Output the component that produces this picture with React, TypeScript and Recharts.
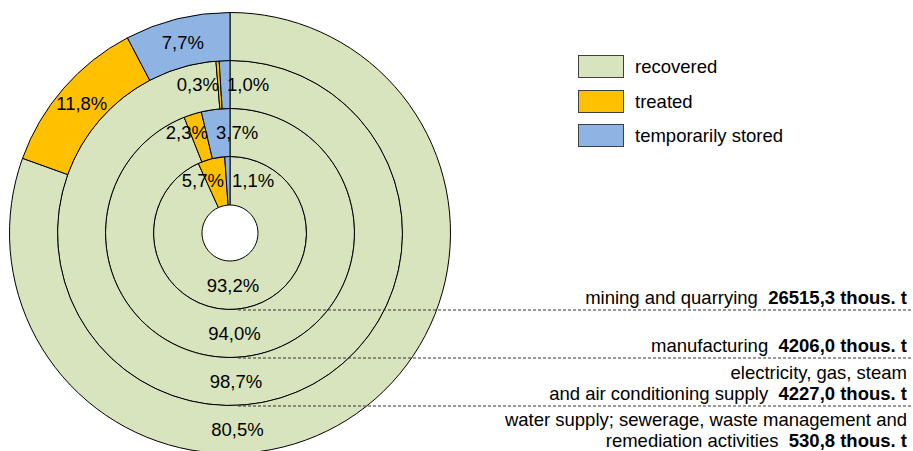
import React from 'react';
import { PieChart, Pie, Cell } from 'recharts';

const categories = ['recovered', 'treated', 'temporarily stored'];
const sectorLabelLines = [
  ['mining and quarrying'],
  ['manufacturing'],
  ['electricity, gas, steam', 'and air conditioning supply'],
  ['water supply; sewerage, waste management and', 'remediation activities'],
];
const sectorTotals = [26515.3, 4206.0, 4227.0, 530.8];
const miningShares = [93.2, 5.7, 1.1];
const manufacturingShares = [94.0, 2.3, 3.7];
const electricityShares = [98.7, 0.3, 1.0];
const waterShares = [80.5, 11.8, 7.7];

const rings = [miningShares, manufacturingShares, electricityShares, waterShares];
const colors = ['#D7E4BD', '#FFC000', '#8EB4E3'];

const W = 913;
const H = 451;
const CX = 230;
const CY = 233;
const RADII = [28, 76.5, 124.5, 172.5, 220.5];
const LABEL_SHIFT = [0, -16, -5];
const FONT = '"Liberation Sans", Arial, sans-serif';
const FS = 18.5;
const RAD = Math.PI / 180;

const fmt = (v: number) => v.toFixed(1).replace('.', ',');

const makeLabel = (ring: number) => (props: any) => {
  const { cx, cy, midAngle, innerRadius, outerRadius, value, index } = props;
  const r = (innerRadius + outerRadius) / 2;
  let x = cx;
  let y = cy;
  let anchor: 'middle' | 'start' | 'end' = 'middle';
  if (index === 0) {
    x = cx + 3 + ring * 1.5;
    y = cy + r;
  } else if (ring === 3) {
    x = cx + r * Math.cos(-midAngle * RAD);
    y = cy + r * Math.sin(-midAngle * RAD);
  } else {
    const shift = LABEL_SHIFT[ring];
    y = cy - r;
    if (index === 1) {
      x = cx - 6 + shift;
      anchor = 'end';
    } else {
      x = cx + 2 + shift;
      anchor = 'start';
    }
  }
  return (
    <text
      x={x}
      y={y}
      textAnchor={anchor}
      dominantBaseline="central"
      fill="#000"
      fontSize={FS}
      fontFamily={FONT}
    >
      {fmt(value) + '%'}
    </text>
  );
};

const Overlay = () => {
  const legendTop = [55, 90, 124];
  const lineY = [RADII[1], RADII[2], RADII[3]].map((r) => CY + r + 0.5);
  const textRight = 907;
  const lh = 21;
  return (
    <svg
      width={W}
      height={H}
      style={{ position: 'absolute', left: 0, top: 0, pointerEvents: 'none' }}
    >
      <g fontFamily={FONT} fontSize={FS}>
        {categories.map((c, i) => (
          <g key={c}>
            <rect
              x={578.5}
              y={legendTop[i] + 0.5}
              width={45}
              height={22}
              fill={colors[i]}
              stroke="#404040"
              strokeWidth={1}
            />
            <text x={635} y={legendTop[i] + 11} dominantBaseline="central" fill="#000">
              {c}
            </text>
          </g>
        ))}
        {lineY.map((y, i) => (
          <line
            key={'l' + i}
            x1={CX + 8}
            x2={W}
            y1={y}
            y2={y}
            stroke="#333"
            strokeWidth={1}
            strokeDasharray="3 2"
          />
        ))}
        {sectorLabelLines.map((lines, i) => {
          const n = lines.length;
          return lines.map((ln, j) => {
            let cyText: number;
            if (i < 3) {
              cyText = lineY[i] - 13 - (n - 1 - j) * lh;
            } else {
              cyText = lineY[2] + 13 + j * lh;
            }
            const isLast = j === n - 1;
            return (
              <text
                key={'t' + i + '-' + j}
                x={textRight}
                y={cyText}
                textAnchor="end"
                dominantBaseline="central"
                fill="#000"
                xmlSpace="preserve"
              >
                {ln}
                {isLast ? (
                  <tspan fontWeight="bold">{'  ' + fmt(sectorTotals[i]) + ' thous. t'}</tspan>
                ) : null}
              </text>
            );
          });
        })}
      </g>
    </svg>
  );
};

export default function App() {
  return (
    <div style={{ position: 'absolute', left: 0, top: 0, width: W, height: H, background: '#fff' }}>
      <PieChart width={W} height={H} margin={{ top: 0, right: 0, bottom: 0, left: 0 }}>
        {rings.map((shares, ring) => (
          <Pie
            key={ring}
            data={shares.map((v, i) => ({ name: categories[i], value: v }))}
            dataKey="value"
            nameKey="name"
            cx={CX}
            cy={CY}
            innerRadius={RADII[ring]}
            outerRadius={RADII[ring + 1]}
            startAngle={90}
            endAngle={-270}
            stroke="#000"
            strokeWidth={1}
            isAnimationActive={false}
            labelLine={false}
            label={makeLabel(ring)}
          >
            {shares.map((_, i) => (
              <Cell key={i} fill={colors[i]} stroke="#000" strokeWidth={1} />
            ))}
          </Pie>
        ))}
      </PieChart>
      <Overlay />
    </div>
  );
}
